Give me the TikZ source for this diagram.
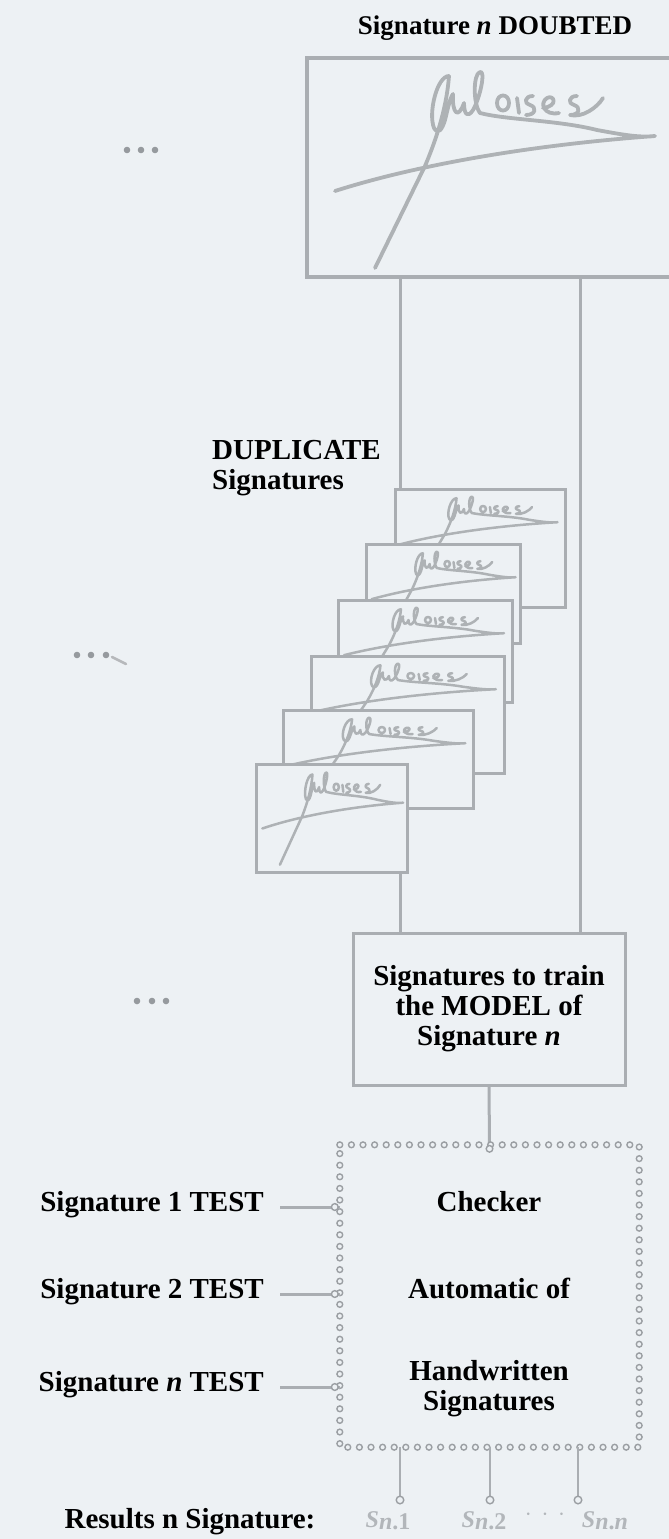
\documentclass[tikz,border=0pt]{standalone}
\usepackage{fontspec}
\setmainfont{Liberation Serif}
\usetikzlibrary{decorations.markings}
\definecolor{bg}{RGB}{237,241,244}
\definecolor{ln}{RGB}{170,174,178}
\definecolor{sg}{RGB}{174,178,181}
\definecolor{ch}{RGB}{155,159,163}
\definecolor{lab}{RGB}{178,182,186}
\definecolor{dotc}{RGB}{150,154,158}
\newcommand\sigstrokes[1]{%
\draw[sg, line width=#1, line cap=round, line join=round]
 (142,18) .. controls (140,45) and (132,75) .. (118,108) -- (68,210)
 (142,18) .. controls (130,18) and (121,55) .. (127,70) .. controls (131,77) and (135,72) .. (138,62)
 (138,62) .. controls (141,50) and (143,40) .. (146,36) .. controls (145,55) and (151,62) .. (157,45) .. controls (157,57) and (161,60) .. (166,52)
 (166,52) .. controls (173,40) and (179,12) .. (173,14) .. controls (166,16) and (166,46) .. (173,55) .. controls (200,62) and (250,62) .. (290,72) .. controls (312,76) and (332,80) .. (348,78)
 (28,133) .. controls (100,110) and (210,88) .. (348,78)
 (190,45) .. controls (190,35) and (202,35) .. (202,45) .. controls (202,55) and (190,55) .. (190,45)
 (210,40) -- (212,55)
 (226,38) .. controls (217,38) and (217,46) .. (223,47) .. controls (230,49) and (229,57) .. (219,57)
 (236,50) .. controls (252,48) and (247,36) .. (240,40) .. controls (232,45) and (237,58) .. (252,55)
 (270,38) .. controls (261,38) and (261,46) .. (267,47) .. controls (274,49) and (273,57) .. (263,57) .. controls (275,60) and (290,50) .. (296,40);
}
\tikzset{
  box/.style={draw=ln, line width=3pt, fill=bg, inner sep=0pt},
  lbl/.style={font=\fontsize{29}{30}\selectfont\bfseries, text=black, inner sep=0pt},
  conn/.style={draw=ln, line width=3pt},
  joint/.style={draw=ch, line width=1.4pt, fill=bg},
  slabel/.style={font=\fontsize{24}{26}\selectfont\bfseries, text=lab, inner sep=0pt},
  chainbox/.style={decoration={markings, mark=between positions 0 and 1 step 11.6pt with {\draw[ch, line width=1.4pt, fill=bg] (0,0) circle (2.9pt);}}, decorate}
}
\begin{document}
\begin{tikzpicture}[x=1pt,y=-1pt]
\useasboundingbox (0,0) rectangle (669,1539);
\clip (0,0) rectangle (669,1539);
\fill[bg] (0,0) rectangle (669,1539);

% helper x positions
\coordinate (xa) at (400,0);
\coordinate (xb) at (580,0);

% title and doubted signature box
\node[lbl, font=\fontsize{27}{29}\selectfont\bfseries] (title) at (495,28) {Signature \textit{n} DOUBTED};
\node[box, line width=3.5pt, minimum width=393pt, minimum height=219pt] (doubt) at (503.5,167.5) {};
\begin{scope}[shift={(307,58)}]
  \sigstrokes{3.8pt}
\end{scope}

% ellipsis marks
\fill[dotc] (127,150) circle (3.3pt) (141,150) circle (3.3pt) (155,150) circle (3.3pt);
\fill[dotc] (77,655) circle (3.3pt) (91,655) circle (3.3pt) (106,655) circle (3.3pt);
\draw[dotc!70, line width=2.5pt, line cap=round] (112,657) -- (126,664);
\fill[dotc] (137,1001) circle (3.3pt) (152,1001) circle (3.3pt) (166,1001) circle (3.3pt);

% DUPLICATE label
\node[lbl, align=left, anchor=west] (dup) at (212,468) {DUPLICATE\\Signatures};

% connector from doubted box to stack
\draw[conn] (doubt.south -| xa) -- (400,489);

% stacked duplicate cards (back to front)
\node[box, minimum width=170pt, minimum height=118pt] (c1) at (480,548) {};
\begin{scope}[shift={(387,491)}, xscale=0.49, yscale=0.4]\sigstrokes{2.5pt}\end{scope}
\node[box, minimum width=154pt, minimum height=99pt] (c2) at (443,593.5) {};
\begin{scope}[shift={(359,546)}, xscale=0.45, yscale=0.4]\sigstrokes{2.5pt}\end{scope}
\node[box, minimum width=174pt, minimum height=102pt] (c3) at (425,651) {};
\begin{scope}[shift={(330,602)}, xscale=0.5, yscale=0.4]\sigstrokes{2.5pt}\end{scope}
\node[box, minimum width=193pt, minimum height=117pt] (c4) at (407.5,714.5) {};
\begin{scope}[shift={(301,658)}, xscale=0.56, yscale=0.4]\sigstrokes{2.5pt}\end{scope}
\node[box, minimum width=190pt, minimum height=98pt] (c5) at (378,759) {};
\begin{scope}[shift={(274,712)}, xscale=0.55, yscale=0.4]\sigstrokes{2.5pt}\end{scope}
\node[box, minimum width=151pt, minimum height=108pt] (c6) at (331.5,818) {};
\begin{scope}[shift={(250,766)}, xscale=0.44, yscale=0.47]\sigstrokes{2.5pt}\end{scope}

% model box
\node[box, minimum width=272pt, minimum height=152pt, lbl, align=center, draw=ln, fill=bg] (model) at (489,1009) {Signatures to train\\the MODEL of\\Signature \textit{n}};

\draw[conn] (c6.south -| xa) -- (model.north -| xa);
\draw[conn] (doubt.south -| xb) -- (model.north -| xb);

% checker box
\node[minimum width=299pt, minimum height=302pt, inner sep=0pt] (checker) at (489.5,1296) {};
\draw[conn] (model.south) -- (checker.north);
\path[chainbox] (checker.north west) -- (checker.north east) -- (checker.south east) -- (checker.south west) -- cycle;
\draw[joint] ([yshift=-4pt]checker.north) circle (3.3pt);

\node[lbl] (chk1) at (489,1202) {Checker};
\node[lbl] (chk2) at (489,1288) {Automatic of};
\node[lbl, align=center] (chk3) at (489,1389) {Handwritten\\Signatures};

% test inputs
\node[lbl, anchor=east] (t1) at (264,1205) {Signature 1 TEST};
\node[lbl, anchor=east] (t2) at (264,1292) {Signature 2 TEST};
\node[lbl, anchor=east] (tn) at (264,1385) {Signature \textit{n} TEST};
\foreach \t in {t1,t2,tn}{
  \draw[conn, line width=3pt] ([xshift=16pt,yshift=-2pt]\t.east) -- ([yshift=-2pt]checker.west |- \t.east);
  \draw[joint] ([xshift=-5pt,yshift=-2pt]checker.west |- \t.east) circle (3.4pt);
}

% outputs
\coordinate (o1) at (400,1500);
\coordinate (o2) at (490,1500);
\coordinate (o3) at (578,1500);
\foreach \o in {o1,o2,o3}{
  \draw[conn, line width=2.6pt] (checker.south -| \o) -- ([yshift=4pt]\o);
  \draw[joint] (\o) circle (3.8pt);
}
\node[lbl] (res) at (190,1522) {Results n Signature:};
\node[slabel] (s1) at (388,1521) {\textit{S}\raisebox{-2pt}{\textit{n}.1}};
\node[slabel] (s2) at (484,1521) {\textit{S}\raisebox{-2pt}{\textit{n}.2}};
\node[slabel] (dd) at (545,1515) {$\cdot\,\cdot\,\cdot$};
\node[slabel] (s3) at (605,1521) {\textit{S}\raisebox{-2pt}{\textit{n}.\textit{n}}};
\end{tikzpicture}
\end{document}
